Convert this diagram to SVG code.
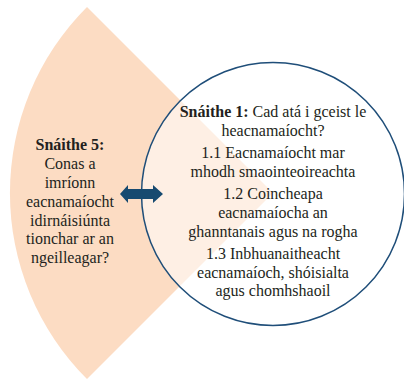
<svg xmlns="http://www.w3.org/2000/svg" width="404" height="380" viewBox="0 0 404 380">
<style>
text{font-family:"Liberation Serif","Times New Roman",serif;font-size:16px;fill:#231f20;text-anchor:middle}
.b{font-weight:bold}
</style>
<rect width="404" height="380" fill="#ffffff"/>
<g id="strand5">
<path d="M273,193 L87,7 A263,263 0 0 0 87,379 Z" fill="#fcdcc3"/>
</g>
<g id="strand1">
<circle cx="273" cy="194" r="131.5" fill="#ffffff" fill-opacity="0.55" stroke="#1f4e79" stroke-width="1.5"/>
</g>
<g id="connectors">
<path d="M120,194 L128,185 L128,189 L153,189 L153,185 L163,194 L153,203 L153,199 L128,199 L128,203 Z" fill="#174a70"/>
</g>
<g id="strand5-text">
<text x="70" y="150" class="b">Snáithe 5:</text>
<text x="70" y="169">Conas a</text>
<text x="70" y="187.5">imríonn</text>
<text x="70" y="206.5">eacnamaíocht</text>
<text x="70" y="225.5">idirnáisiúnta</text>
<text x="70" y="244">tionchar ar an</text>
<text x="70" y="262.5">ngeilleagar?</text>
</g>
<g id="strand1-text">
<text x="273" y="117"><tspan class="b">Snáithe 1:</tspan> Cad atá i gceist le</text>
<text x="273" y="136">heacnamaíocht?</text>
<text x="273" y="158">1.1 Eacnamaíocht mar</text>
<text x="273" y="177">mhodh smaointeoireachta</text>
<text x="273" y="199">1.2 Coincheapa</text>
<text x="273" y="218">eacnamaíocha an</text>
<text x="273" y="237">ghanntanais agus na rogha</text>
<text x="273" y="259">1.3 Inbhuanaitheacht</text>
<text x="273" y="278">eacnamaíoch, shóisialta</text>
<text x="273" y="296">agus chomhshaoil</text>
</g>
</svg>
